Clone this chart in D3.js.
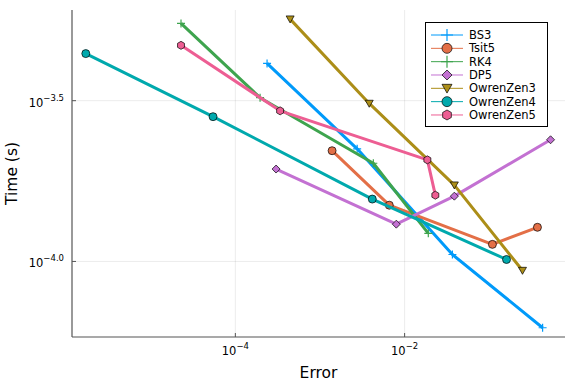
<!DOCTYPE html>
<html>
<head>
<meta charset="utf-8">
<script src="https://cdn.jsdelivr.net/npm/d3@7"></script>
<style>
  body { margin: 0; background: #fff; }
  text { font-family: "DejaVu Sans", sans-serif; }
</style>
</head>
<body>
<div id="chart"></div>
<script>
// work-precision data (error, time in s)
const seriesNames = ["BS3", "Tsit5", "RK4", "DP5", "OwrenZen3", "OwrenZen4", "OwrenZen5"];
const colors = ["#009AFA", "#E36F47", "#3EA44E", "#C371D2", "#AC8E18", "#00A9AD", "#ED5E93"];
const markers = ["plus", "circle", "plus", "diamond", "dtriangle", "circle", "hexagon"];

const errBS3 = [2.37e-4, 2.75e-3, 0.0367, 0.427];
const timeBS3 = [4.13e-4, 2.24e-4, 1.051e-4, 6.22e-5];
const errTsit5 = [1.39e-3, 6.59e-3, 0.109, 0.371];
const timeTsit5 = [2.21e-4, 1.496e-4, 1.130e-4, 1.277e-4];
const errRK4 = [2.28e-5, 1.96e-4, 4.27e-3, 0.01905];
const timeRK4 = [5.50e-4, 3.23e-4, 2.02e-4, 1.223e-4];
const errDP5 = [3.03e-4, 7.98e-3, 0.0387, 0.530];
const timeDP5 = [1.938e-4, 1.306e-4, 1.596e-4, 2.39e-4];
const errOZ3 = [4.44e-4, 3.82e-3, 0.0387, 0.247];
const timeOZ3 = [5.67e-4, 3.10e-4, 1.727e-4, 9.37e-5];
const errOZ4 = [1.71e-6, 5.45e-5, 4.15e-3, 0.160];
const timeOZ4 = [4.43e-4, 2.82e-4, 1.563e-4, 1.014e-4];
const errOZ5 = [2.28e-5, 3.38e-4, 0.01857, 0.02307];
const timeOZ5 = [4.70e-4, 2.94e-4, 2.07e-4, 1.607e-4];

const xTickVals = [1e-4, 1e-2];
const xTickExp = ["−4", "−2"];
const yTickVals = [Math.pow(10, -3.5), Math.pow(10, -4)];
const yTickExp = ["−3.5", "−4.0"];

const errs = [errBS3, errTsit5, errRK4, errDP5, errOZ3, errOZ4, errOZ5];
const times = [timeBS3, timeTsit5, timeRK4, timeDP5, timeOZ3, timeOZ4, timeOZ5];
const series = seriesNames.map((n, i) => ({
  name: n, color: colors[i], marker: markers[i],
  pts: errs[i].map((e, j) => ({x: e, y: times[i][j]}))
}));

const W = 576, H = 384;
const pLeft = 72, pRight = 565, pTop = 10, pBottom = 337;

const x = d3.scaleLog().domain([Math.pow(10, -5.93), Math.pow(10, -0.105)]).range([pLeft, pRight]);
const y = d3.scaleLog().domain([Math.pow(10, -4.235), Math.pow(10, -3.218)]).range([pBottom, pTop]);

const svg = d3.select("#chart").append("svg").attr("width", W).attr("height", H);

// grid
svg.append("g").selectAll("line").data(xTickVals).join("line")
  .attr("x1", d => x(d)).attr("x2", d => x(d)).attr("y1", pTop).attr("y2", pBottom)
  .attr("stroke", "#000").attr("stroke-opacity", 0.1).attr("stroke-width", 0.8);
svg.append("g").selectAll("line").data(yTickVals).join("line")
  .attr("y1", d => y(d)).attr("y2", d => y(d)).attr("x1", pLeft).attr("x2", pRight)
  .attr("stroke", "#000").attr("stroke-opacity", 0.1).attr("stroke-width", 0.8);

function markerPath(type, s) {
  if (type === "circle") return d3.symbol(d3.symbolCircle, Math.PI * s * s)();
  if (type === "diamond") return `M0,${-s}L${s},0L0,${s}L${-s},0Z`;
  if (type === "dtriangle") return `M${-s},${-s * 0.8}L${s},${-s * 0.8}L0,${s * 0.95}Z`;
  if (type === "hexagon") {
    let p = d3.range(6).map(k => {
      let a = Math.PI / 3 * k + Math.PI / 6;
      return [s * Math.cos(a), s * Math.sin(a)];
    });
    return "M" + p.map(q => q.join(",")).join("L") + "Z";
  }
  return `M${-s},0L${s},0M0,${-s}L0,${s}`;
}

function drawMarker(g, type, color, s) {
  if (type === "plus") {
    g.append("path").attr("d", markerPath(type, s)).attr("stroke", color).attr("stroke-width", 1.2).attr("fill", "none");
  } else {
    g.append("path").attr("d", markerPath(type, s)).attr("fill", color)
      .attr("stroke", "#000").attr("stroke-width", 0.7);
  }
}

const line = d3.line().x(d => x(d.x)).y(d => y(d.y));

const plot = svg.append("g");
series.forEach(s => {
  plot.append("path").datum(s.pts).attr("d", line)
    .attr("fill", "none").attr("stroke", s.color).attr("stroke-width", 3)
    .attr("stroke-linejoin", "round");
  s.pts.forEach(p => {
    let g = plot.append("g").attr("transform", `translate(${x(p.x)},${y(p.y)})`);
    drawMarker(g, s.marker, s.color, 4);
  });
});

// axes (left and bottom only, ticks pointing inward)
const axisColor = "#555";
svg.append("line").attr("x1", pLeft).attr("x2", pLeft).attr("y1", pTop).attr("y2", pBottom)
  .attr("stroke", axisColor).attr("stroke-width", 1.2);
svg.append("line").attr("x1", pLeft).attr("x2", pRight).attr("y1", pBottom).attr("y2", pBottom)
  .attr("stroke", axisColor).attr("stroke-width", 1.2);

xTickVals.forEach((v, i) => {
  svg.append("line").attr("x1", x(v)).attr("x2", x(v)).attr("y1", pBottom).attr("y2", pBottom - 4)
    .attr("stroke", axisColor).attr("stroke-width", 1);
  let t = svg.append("text").attr("x", x(v)).attr("y", 355).attr("text-anchor", "middle")
    .attr("font-size", 11.5).attr("fill", "#000");
  t.append("tspan").text("10");
  t.append("tspan").attr("dy", -6).attr("font-size", 8.5).text(xTickExp[i]);
});
yTickVals.forEach((v, i) => {
  svg.append("line").attr("x1", pLeft).attr("x2", pLeft + 4).attr("y1", y(v)).attr("y2", y(v))
    .attr("stroke", axisColor).attr("stroke-width", 1);
  let t = svg.append("text").attr("x", 64).attr("y", y(v) + 6).attr("text-anchor", "end")
    .attr("font-size", 11.5).attr("fill", "#000");
  t.append("tspan").text("10");
  t.append("tspan").attr("dy", -6).attr("font-size", 8.5).text(yTickExp[i]);
});

svg.append("text").attr("x", (pLeft + pRight) / 2).attr("y", 378).attr("text-anchor", "middle")
  .attr("font-size", 15.5).text("Error");
svg.append("text").attr("transform", `translate(17,${(pTop + pBottom) / 2}) rotate(-90)`)
  .attr("text-anchor", "middle").attr("font-size", 15.5).text("Time (s)");

// legend
const lg = svg.append("g");
lg.append("rect").attr("x", 425.5).attr("y", 22.5).attr("width", 122).attr("height", 104)
  .attr("fill", "#fff").attr("stroke", "#000").attr("stroke-width", 1);
series.forEach((s, i) => {
  let yy = 35 + i * 13.33;
  lg.append("line").attr("x1", 431).attr("x2", 463).attr("y1", yy).attr("y2", yy)
    .attr("stroke", s.color).attr("stroke-width", 1);
  let g = lg.append("g").attr("transform", `translate(447,${yy})`);
  drawMarker(g, s.marker, s.color, s.marker === "plus" ? 6 : 5);
  lg.append("text").attr("x", 469).attr("y", yy + 4).attr("font-size", 11.5).text(s.name);
});
</script>
</body>
</html>
